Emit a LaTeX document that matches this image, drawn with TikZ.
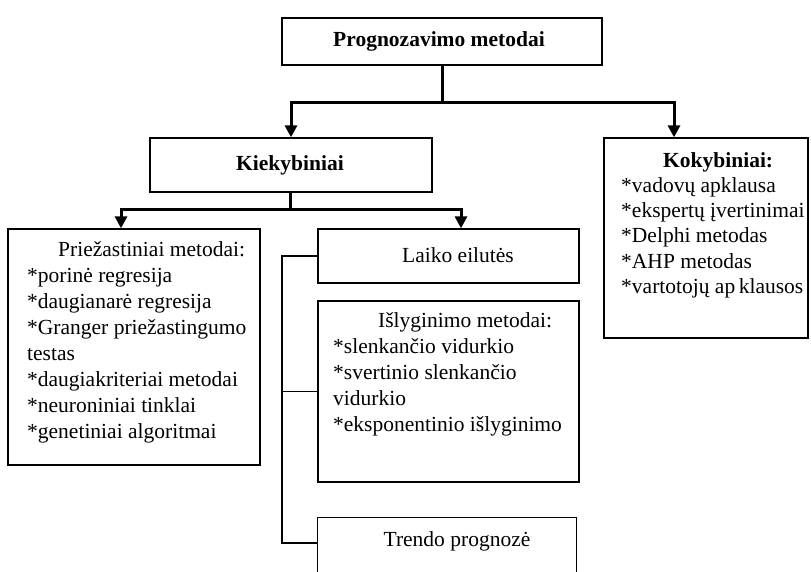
\documentclass[tikz,border=0pt]{standalone}
\usepackage{fontspec}
\setmainfont{Liberation Serif}
\usetikzlibrary{arrows.meta,calc}
\begin{document}
\begin{tikzpicture}[x=1pt,y=-1pt,
  box/.style={draw,line width=1.3pt,rectangle,inner sep=0pt},
  conn/.style={line width=3pt},
  connarrow/.style={line width=3pt,-{Triangle[width=12pt,length=12pt]}},
  bracket/.style={line width=1.5pt},
  txt/.style={inner sep=0pt,anchor=base west,font=\fontsize{21.5}{26}\selectfont},
  ctxt/.style={inner sep=0pt,anchor=base,font=\fontsize{21.5}{26}\selectfont},
  btxt/.style={inner sep=0pt,anchor=base,font=\fontsize{21.5}{26}\selectfont\bfseries}]
\useasboundingbox (0,0) rectangle (811,572);

% boxes
\node[box,minimum width=320pt,minimum height=47pt] (top) at (442,41.5) {};
\node[box,minimum width=282pt,minimum height=54pt] (kiek) at (291,165) {};
\node[box,minimum width=204pt,minimum height=200pt] (koky) at (706,238) {};
\node[box,minimum width=252pt,minimum height=236pt] (cause) at (134,347) {};
\node[box,minimum width=261pt,minimum height=54pt] (laiko) at (448.5,256) {};
\node[box,minimum width=261pt,minimum height=181pt] (islyg) at (448.5,391.5) {};
\node[inner sep=0pt,minimum width=258pt,minimum height=54pt] (trend) at (447,545) {};
\draw[line width=1.3pt] (trend.south west) -- (trend.north west) -- (trend.north east) -- (trend.south east);

% titles
\node[btxt] (ttop) at (439,47) {Prognozavimo metodai};
\node[btxt] (tkiek) at (290,171) {Kiekybiniai};
\node[btxt,anchor=base west] (tkoky) at (663,168) {Kokybiniai:};
\node[txt] (tcause) at (58,256) {Priežastiniai metodai:};
\node[ctxt] (tlaiko) at (458,262) {Laiko eilutės};
\node[txt] (tislyg) at (378,327) {Išlyginimo metodai:};
\node[ctxt] (ttrend) at (457,546) {Trendo prognozė};

% item lists
\foreach \t [count=\i] in {*vadovų apklausa,*ekspertų įvertinimai,*Delphi metodas,*AHP metodas,*vartotojų ap\,klausos}
  \node[txt] (k\i) at (621,168+25*\i) {\t};
\foreach \t [count=\i] in {*porinė regresija,*daugianarė regresija,*Granger priežastingumo,testas,*daugiakriteriai metodai,*neuroniniai tinklai,*genetiniai algoritmai}
  \node[txt] (c\i) at (27,256+26*\i) {\t};
\foreach \t [count=\i] in {*slenkančio vidurkio,*svertinio slenkančio,vidurkio,*eksponentinio išlyginimo}
  \node[txt] (s\i) at (333,327+26*\i) {\t};

% connectors
\coordinate (j1) at (442,103);
\coordinate (j2) at (290,210);
\draw[conn] (top.south) -- (j1);
\draw[connarrow] (j1) -| (kiek.north);
\draw[connarrow] (j1) -| (674,0 |- koky.north);
\draw[conn] (kiek.south -| j2) -- (j2);
\draw[connarrow] (j2) -| (121,0 |- cause.north);
\draw[connarrow] (j2) -| (461,0 |- laiko.north);

% bracket joining the time-series groups
\coordinate (b1) at (282,256);
\coordinate (b3) at (282,543);
\draw[bracket] (laiko.west) -- (b1) -- (b3) -- (b3 -| trend.west);
\draw[bracket] (islyg.west) -- (islyg.west -| b1);
\end{tikzpicture}
\end{document}
